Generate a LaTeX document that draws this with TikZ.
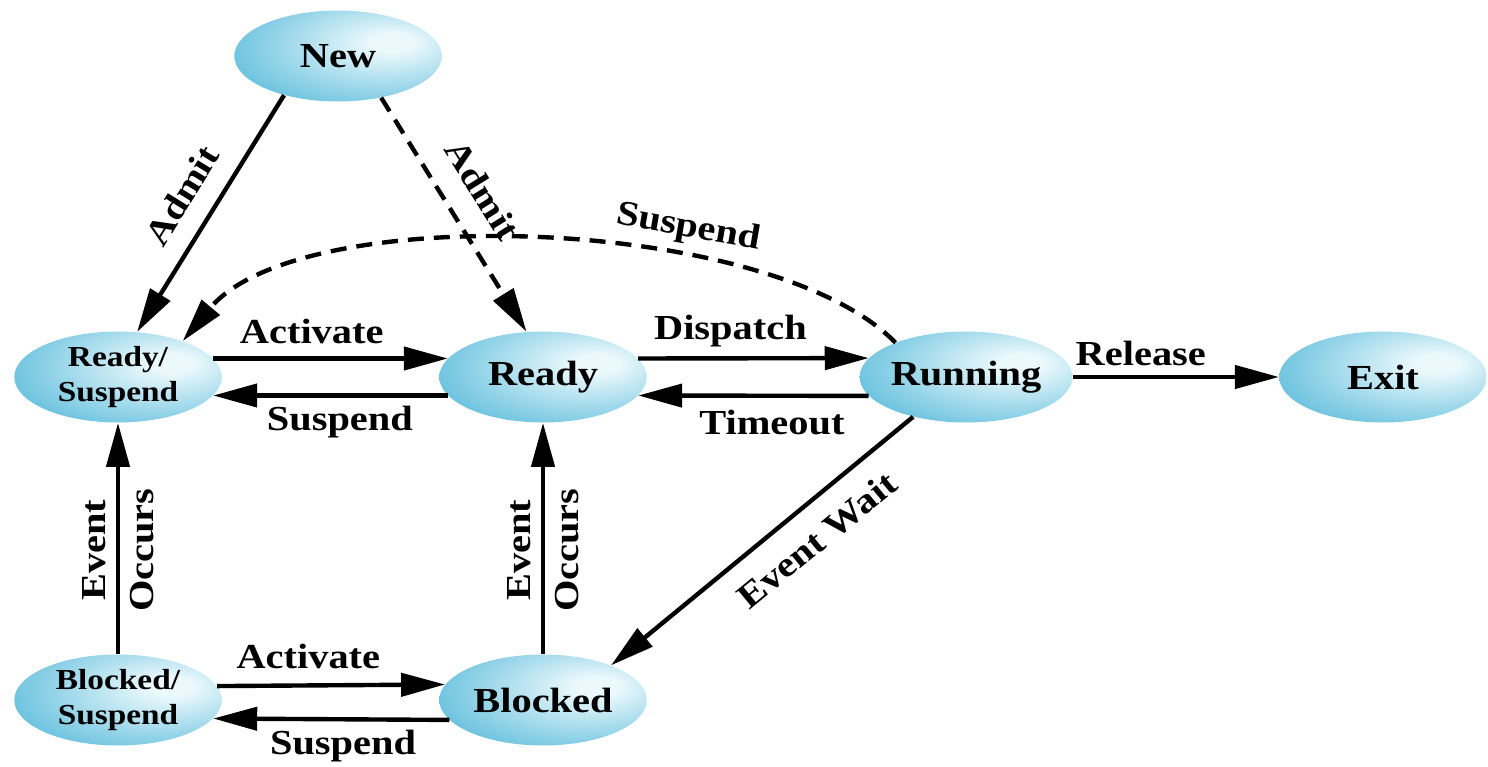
\documentclass[tikz,border=0pt]{standalone}
\usepackage{fontspec}
\setmainfont{Liberation Serif}[FakeStretch=1.15]
\usetikzlibrary{shapes.geometric,arrows.meta}

\definecolor{stateDark}{RGB}{50,170,210}
\definecolor{stateLight}{RGB}{236,249,252}
\pgfdeclareradialshading{stateshade}{\pgfpoint{14bp}{8bp}}{color(0bp)=(stateLight); color(5bp)=(stateLight); color(48bp)=(stateDark); color(80bp)=(stateDark)}

\tikzset{
  state/.style={ellipse, shading=stateshade, minimum width=4.15cm, minimum height=1.82cm, inner sep=0pt, font=\bfseries\fontsize{20}{22}\selectfont},
  twoline/.style={state, align=center, font=\bfseries\fontsize{16.5}{19.5}\selectfont},
  trans/.style={line width=2.5pt, -{Triangle[length=0.88cm, width=0.46cm]}},
  optional/.style={trans, dash pattern=on 0.32cm off 0.2cm},
  lbl/.style={font=\bfseries\fontsize{20}{27}\selectfont, inner sep=5pt},
}

\begin{document}
\begin{tikzpicture}[x=0.02cm, y=-0.02cm]
\useasboundingbox (0,0) rectangle (1488,767);

\node[state] (new) at (338,56) {New};
\node[twoline] (rsus) at (118,377) {Ready/\\Suspend};
\node[state] (ready) at (543,377) {Ready};
\node[state] (run) at (966,377) {Running};
\node[state] (exit) at (1383,377) {Exit};
\node[twoline] (bsus) at (118,700) {Blocked/\\Suspend};
\node[state] (blocked) at (543,700) {Blocked};

\draw[trans] (new.216) -- node[lbl, sloped, above=6pt] {Admit} (rsus.67);
\draw[optional] (new.316) -- node[lbl, sloped, above=8pt, pos=0.48] {Admit} (ready.110);
\draw[optional] (run.154) .. controls (770,215) and (300,200) .. node[lbl, sloped, above, pos=0.33] {Suspend} (rsus.29);

\draw[trans] (rsus.11) -- node[lbl, above=2pt, pos=0.42] {Activate} (ready.169);
\draw[trans] (ready.-169) -- node[lbl, below, pos=0.46] {Suspend} (rsus.-11);
\draw[trans] (ready.11) -- node[lbl, above, pos=0.4] {Dispatch} (run.169);
\draw[trans] (run.-169) -- node[lbl, below=2pt, pos=0.42] {Timeout} (ready.-11);
\draw[trans] (run.east) -- node[lbl, above, pos=0.33] {Release} (exit.west);
\draw[trans] (run.217) -- node[lbl, sloped, below=6pt, pos=0.39] {Event Wait} (blocked.27);

\draw[trans] (bsus.north) -- node[lbl, sloped, align=center, pos=0.45] {Event\\Occurs} (rsus.south);
\draw[trans] (blocked.north) -- node[lbl, sloped, align=center, pos=0.45] {Event\\Occurs} (ready.south);

\draw[trans] (bsus.8.5) -- node[lbl, above=3pt, pos=0.4] {Activate} (blocked.171.5);
\draw[trans] (blocked.-168.5) -- node[lbl, below, pos=0.45] {Suspend} (bsus.-11.5);
\end{tikzpicture}
\end{document}
